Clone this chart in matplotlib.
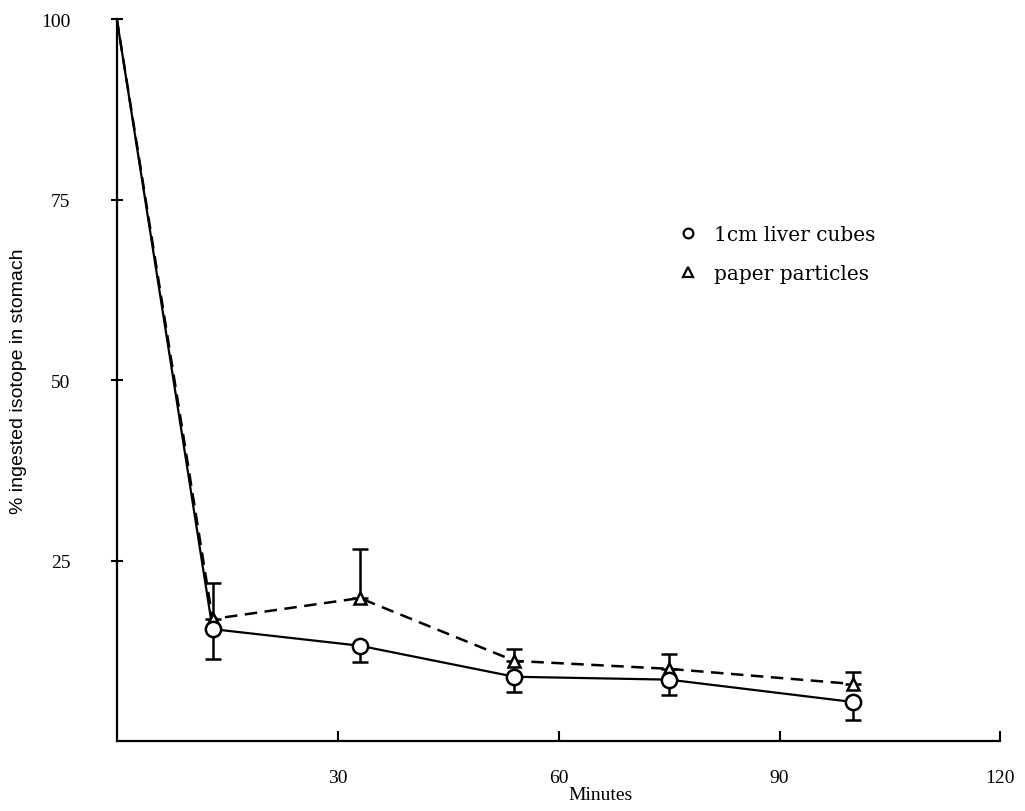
import matplotlib
matplotlib.use("Agg")
import matplotlib.pyplot as plt
from matplotlib.lines import Line2D

minutes = [0, 13, 33, 54, 75, 100]
liver = [100, 15.5, 13.2, 8.9, 8.5, 5.4]
liver_err_low = [0, 4.1, 2.3, 2.1, 2.1, 2.5]
paper = [100, 16.9, 19.8, 11.1, 10.0, 7.9]
paper_err_up = [0, 5.0, 6.8, 1.6, 2.0, 1.7]
xticks = [30, 60, 90, 120]
yticks = [25, 50, 75, 100]

plt.rcParams['font.family'] = ['Liberation Serif', 'DejaVu Serif']

fig = plt.figure(figsize=(10.25, 8.12), dpi=100)
ax = fig.add_axes([0.114, 0.0862, 0.862, 0.889])

# paper particles (dashed, triangles, upper error bars)
ax.errorbar(minutes[1:], paper[1:], yerr=[[0]*5, paper_err_up[1:]], fmt='none',
            ecolor='black', elinewidth=1.8, capsize=6, capthick=1.8, zorder=2)
ax.plot(minutes, paper, color='black', linestyle=(0, (5, 3)), linewidth=1.8, zorder=3)
ax.plot(minutes[1:], paper[1:], linestyle='none', marker='^', markersize=9,
        markerfacecolor='white', markeredgecolor='black', markeredgewidth=1.8, zorder=5)

# liver cubes (solid, circles, lower error bars)
ax.errorbar(minutes[1:], liver[1:], yerr=[liver_err_low[1:], [0]*5], fmt='none',
            ecolor='black', elinewidth=1.8, capsize=6, capthick=1.8, zorder=2)
ax.plot(minutes, liver, color='black', linestyle='-', linewidth=1.6, zorder=3)
ax.plot(minutes[1:], liver[1:], linestyle='none', marker='o', markersize=11,
        markerfacecolor='white', markeredgecolor='black', markeredgewidth=1.8, zorder=5)

ax.set_xlim(0, 120)
ax.set_ylim(0, 100)
ax.set_xticks(xticks)
ax.set_yticks(yticks)
ax.spines['top'].set_visible(False)
ax.spines['right'].set_visible(False)
ax.spines['left'].set_linewidth(1.6)
ax.spines['bottom'].set_linewidth(1.6)
ax.tick_params(axis='x', direction='in', length=7, width=1.5, labelsize=14, pad=20)
ax.tick_params(axis='y', direction='inout', length=9, width=1.5, labelsize=14, pad=29)

ax.set_xlabel('Minutes', fontsize=14)
ax.xaxis.label.set_va('center')
ax.xaxis.set_label_coords(0.547, -0.0735)
ax.set_ylabel('% ingested isotope in stomach', fontsize=14, labelpad=10,
              family=['Liberation Sans', 'DejaVu Sans'])

handles = [
    Line2D([], [], linestyle='none', marker='o', markersize=7, markerfacecolor='white',
           markeredgecolor='black', markeredgewidth=1.6),
    Line2D([], [], linestyle='none', marker='^', markersize=7, markerfacecolor='white',
           markeredgecolor='black', markeredgewidth=1.6),
]
ax.legend(handles, ['1cm liver cubes', 'paper particles'], loc='upper left',
          bbox_to_anchor=(0.615, 0.74), frameon=False,
          prop={'family': ['DejaVu Serif'], 'size': 14.5},
          handlelength=1.0, handletextpad=0.75, labelspacing=1.0)

fig.savefig('out.png', dpi=100, facecolor='white')
